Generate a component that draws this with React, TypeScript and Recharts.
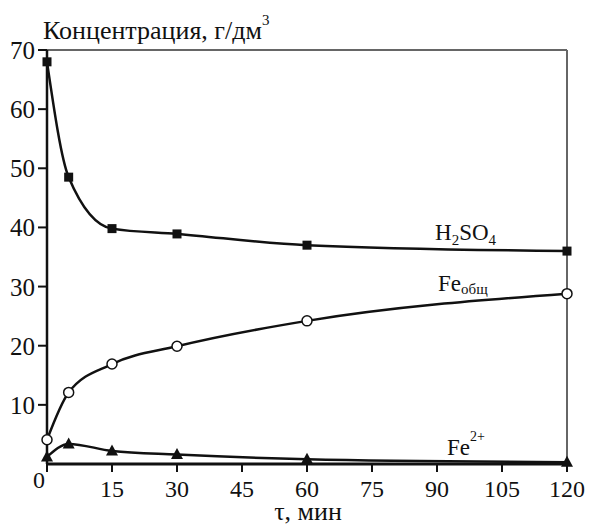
import React from "react";
import { ComposedChart, Line, XAxis, YAxis, ReferenceLine } from "recharts";

const times = [0, 5, 15, 30, 60, 120];
const h2so4 = [68, 48.5, 39.8, 38.9, 37, 36];
const feTotal = [4.1, 12.1, 16.9, 19.9, 24.2, 28.8];
const fe2 = [1.2, 3.4, 2.2, 1.6, 0.8, 0.3];
const xTicks = [0, 15, 30, 45, 60, 75, 90, 105, 120];
const yTicks = [10, 20, 30, 40, 50, 60, 70];

const data = times.map((t, i) => ({ t, h2so4: h2so4[i], feTotal: feTotal[i], fe2: fe2[i] }));

const FONT = "Liberation Serif";
const W = 589;
const H = 526;

const XTick = (props: any) => {
  const { x, payload } = props;
  const isZero = payload.value === 0;
  return (
    <text
      x={isZero ? x - 8 : x}
      y={isZero ? 488 : 497}
      textAnchor="middle"
      fontFamily={FONT}
      fontSize={24}
      fill="#111"
    >
      {payload.value}
    </text>
  );
};

const YTick = (props: any) => {
  const { x, y, payload } = props;
  return (
    <text x={x - 1} y={y + 9} textAnchor="end" fontFamily={FONT} fontSize={25} fill="#111">
      {payload.value}
    </text>
  );
};

const Square = (props: any) => {
  const { cx, cy } = props;
  if (cx == null || cy == null) return null;
  return <rect x={cx - 4.5} y={cy - 4.5} width={9} height={9} fill="#111" />;
};

const Circle = (props: any) => {
  const { cx, cy } = props;
  if (cx == null || cy == null) return null;
  return <circle cx={cx} cy={cy} r={5} fill="#fff" stroke="#111" strokeWidth={1.5} />;
};

const Tri = (props: any) => {
  const { cx, cy } = props;
  if (cx == null || cy == null) return null;
  return <polygon points={`${cx},${cy - 6.5} ${cx - 6},${cy + 4.5} ${cx + 6},${cy + 4.5}`} fill="#111" />;
};

export default function App() {
  return (
    <div style={{ position: "absolute", left: 0, top: 0, width: W, height: H, background: "#fff" }}>
      <ComposedChart width={W} height={H} data={data} margin={{ top: 50, right: 22, bottom: 0, left: 0 }}>
        <XAxis
          dataKey="t"
          type="number"
          domain={[0, 120]}
          ticks={xTicks}
          height={62}
          tickSize={8}
          tick={<XTick />}
          axisLine={{ stroke: "#111", strokeWidth: 3 }}
          tickLine={{ stroke: "#111", strokeWidth: 2 }}
        />
        <YAxis
          type="number"
          domain={[0, 70]}
          ticks={yTicks}
          width={47}
          tickSize={9}
          tick={<YTick />}
          axisLine={{ stroke: "#111", strokeWidth: 2.5 }}
          tickLine={{ stroke: "#111", strokeWidth: 2 }}
        />
        <ReferenceLine y={70} stroke="#666" strokeWidth={2} />
        <ReferenceLine x={120} stroke="#666" strokeWidth={2} />
        <Line type="monotone" dataKey="h2so4" stroke="#111" strokeWidth={2.5} dot={<Square />} isAnimationActive={false} />
        <Line type="monotone" dataKey="feTotal" stroke="#111" strokeWidth={2.5} dot={<Circle />} isAnimationActive={false} />
        <Line type="monotone" dataKey="fe2" stroke="#111" strokeWidth={2.5} dot={<Tri />} isAnimationActive={false} />
      </ComposedChart>
      <svg width={W} height={H} style={{ position: "absolute", left: 0, top: 0, pointerEvents: "none" }}>
        <g fill="#111" fontFamily={FONT}>
          <text x={43} y={39} fontSize={26}>
            Концентрация, г/дм<tspan fontSize={15} dy={-14}>3</tspan>
          </text>
          <text x={435} y={240} fontSize={23}>
            H<tspan fontSize={15} dy={5}>2</tspan>
            <tspan dy={-5}>SO</tspan>
            <tspan fontSize={15} dy={5}>4</tspan>
          </text>
          <text x={438} y={291} fontSize={23}>
            Fe<tspan fontSize={15} dy={3}>общ</tspan>
          </text>
          <text x={447} y={455} fontSize={23}>
            Fe<tspan fontSize={14} dy={-14}>2+</tspan>
          </text>
          <text x={308} y={520} textAnchor="middle" fontSize={26}>τ, мин</text>
        </g>
      </svg>
    </div>
  );
}
